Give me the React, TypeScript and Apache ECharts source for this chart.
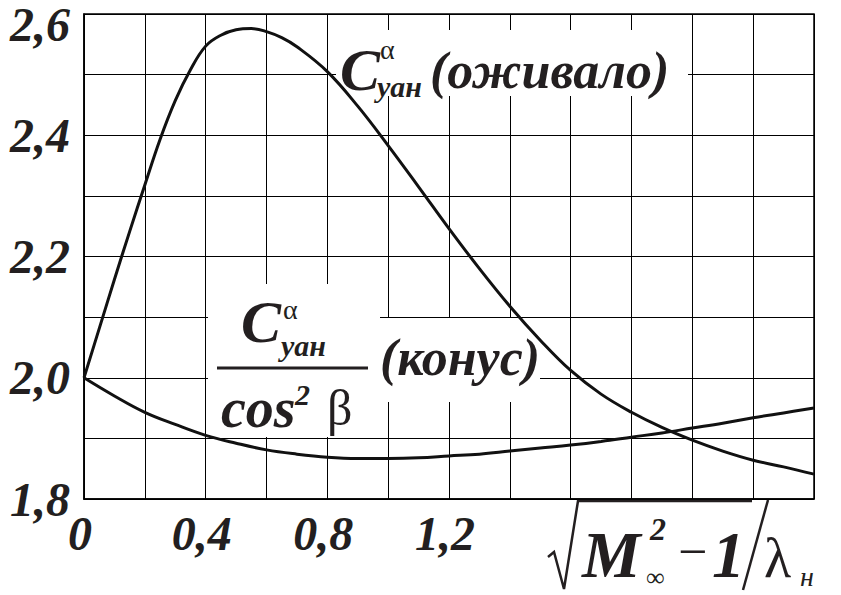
import React, { useEffect, useRef } from "react";
import * as echarts from "echarts";

// X positions (√(M²−1)/λн) and curve values
const xValues = [0, 0.05, 0.1, 0.15, 0.2, 0.25, 0.3, 0.35, 0.4, 0.45, 0.5, 0.55, 0.6, 0.65, 0.7, 0.8, 0.9, 1.0, 1.1, 1.2, 1.3, 1.4, 1.5, 1.6, 1.7, 1.8, 1.9, 2.0, 2.1, 2.2, 2.3, 2.4];
const ogiveValues = [2.0, 2.081, 2.162, 2.241, 2.318, 2.393, 2.457, 2.508, 2.547, 2.565, 2.574, 2.576, 2.571, 2.561, 2.546, 2.505, 2.448, 2.383, 2.315, 2.246, 2.18, 2.118, 2.062, 2.012, 1.973, 1.943, 1.918, 1.897, 1.879, 1.864, 1.853, 1.841];
const coneX = [0, 0.1, 0.2, 0.3, 0.4, 0.5, 0.6, 0.7, 0.8, 0.9, 1.0, 1.1, 1.2, 1.3, 1.4, 1.5, 1.6, 1.7, 1.8, 1.9, 2.0, 2.1, 2.2, 2.3, 2.4];
const coneValues = [2.0, 1.97, 1.943, 1.923, 1.905, 1.892, 1.881, 1.874, 1.869, 1.867, 1.867, 1.868, 1.871, 1.874, 1.879, 1.884, 1.889, 1.895, 1.902, 1.909, 1.917, 1.925, 1.934, 1.942, 1.95];

const xLabelValues = [0, 0.4, 0.8, 1.2];
const xTickLabels = ["0", "0,4", "0,8", "1,2"];
const yLabelValues = [1.8, 2.0, 2.2, 2.4, 2.6];
const yTickLabels = ["1,8", "2,0", "2,2", "2,4", "2,6"];

const INK = "#231f20";
const SERIF = "Liberation Serif";

function T(text: string, x: number, baseline: number, fs: number, bold: boolean, italic: boolean) {
  return {
    type: "text",
    z: 10,
    x,
    y: baseline - 0.34 * fs,
    style: {
      text,
      fill: INK,
      fontSize: fs,
      fontFamily: SERIF,
      fontWeight: bold ? "bold" : "normal",
      fontStyle: italic ? "italic" : "normal",
      align: "left",
      verticalAlign: "middle",
    },
  };
}

function L(x1: number, y1: number, x2: number, y2: number, w: number) {
  return { type: "line", z: 10, shape: { x1, y1, x2, y2 }, style: { stroke: INK, lineWidth: w } };
}

function R(x: number, y: number, width: number, height: number) {
  return { type: "rect", z: 1, shape: { x, y, width, height }, style: { fill: "#ffffff" } };
}

export default function App() {
  const ref = useRef<HTMLDivElement>(null);
  useEffect(() => {
    if (!ref.current) return;
    const chart = echarts.init(ref.current, null, { renderer: "svg" });
    const labelFont = {
      fontSize: 48,
      fontFamily: SERIF,
      fontWeight: "bold",
      fontStyle: "italic",
      color: INK,
    };
    chart.setOption({
      animation: false,
      backgroundColor: "#ffffff",
      grid: {
        left: 84,
        top: 13,
        right: 27,
        bottom: 96,
        show: true,
        borderColor: "#000",
        borderWidth: 1.5,
        containLabel: false,
      },
      xAxis: {
        type: "value",
        min: 0,
        max: 2.4,
        interval: 0.2,
        axisLine: { show: true, lineStyle: { color: "#000", width: 1.5 } },
        axisTick: { show: false },
        splitLine: { show: true, lineStyle: { color: "#000", width: 1 } },
        axisLabel: {
          ...labelFont,
          margin: 10,
          showMinLabel: true,
          showMaxLabel: true,
          hideOverlap: false,
          padding: [0, 8, 0, 0],
          formatter: (v: number) => {
            const i = xLabelValues.findIndex((t) => Math.abs(t - v) < 1e-6);
            return i >= 0 ? xTickLabels[i] : "";
          },
        },
      },
      yAxis: {
        type: "value",
        min: 1.8,
        max: 2.6,
        interval: 0.1,
        axisLine: { show: true, lineStyle: { color: "#000", width: 1.5 } },
        axisTick: { show: false },
        splitLine: { show: true, lineStyle: { color: "#000", width: 1 } },
        axisLabel: {
          ...labelFont,
          margin: 14,
          showMinLabel: true,
          showMaxLabel: true,
          hideOverlap: false,
          formatter: (v: number) => {
            const i = yLabelValues.findIndex((t) => Math.abs(t - v) < 1e-6);
            if (i < 0) return "";
            if (i === yLabelValues.length - 1) return "{top|" + yTickLabels[i] + "}";
            return yTickLabels[i];
          },
          rich: {
            top: { ...labelFont, padding: [20, 0, 0, 0] },
          },
        },
      },
      series: [
        {
          type: "line",
          name: "оживало",
          z: 5,
          smooth: 0.4,
          showSymbol: false,
          lineStyle: { color: "#111", width: 3 },
          data: xValues.map((x, i) => [x, ogiveValues[i]]),
        },
        {
          type: "line",
          name: "конус",
          z: 5,
          smooth: 0.4,
          showSymbol: false,
          lineStyle: { color: "#111", width: 3 },
          data: coneX.map((x, i) => [x, coneValues[i]]),
        },
      ],
      graphic: [
        // ogive label
        R(336, 30, 352, 66),
        T("C", 340, 90, 60, true, true),
        T("α", 380, 59, 28, false, false),
        T("уан", 377, 97, 30, true, true),
        T("(оживало)", 430, 88, 52, true, true),
        // cone label
        R(208, 284, 172, 153),
        R(375, 318, 165, 84),
        T("C", 241, 342, 60, true, true),
        T("α", 283, 319, 28, false, false),
        T("уан", 281, 356, 30, true, true),
        L(217, 368, 368, 368, 3),
        T("cos", 221, 427, 56, true, true),
        T("2", 295, 405, 30, true, true),
        T("β", 327, 425, 50, false, false),
        T("(конус)", 380, 375, 52, true, true),
        // axis title √(M∞² − 1)/λн
        {
          type: "polyline",
          z: 10,
          shape: { points: [[548, 557], [554, 552], [564, 589], [578, 501], [752, 501]] },
          style: { stroke: INK, lineWidth: 2.5, fill: "none" },
        },
        T("M", 582, 577, 66, true, true),
        T("2", 650, 540, 32, true, true),
        T("∞", 646, 586, 26, false, false),
        T("−", 678, 569, 52, false, false),
        T("1", 712, 577, 66, true, true),
        L(768, 500, 743, 590, 2.5),
        T("λ", 764, 577, 56, false, false),
        T("н", 800, 586, 28, false, true),
      ],
    });
    return () => chart.dispose();
  }, []);
  return (
    <div
      ref={ref}
      style={{ position: "fixed", left: 0, top: 0, width: 841, height: 595, background: "#fff" }}
    />
  );
}
